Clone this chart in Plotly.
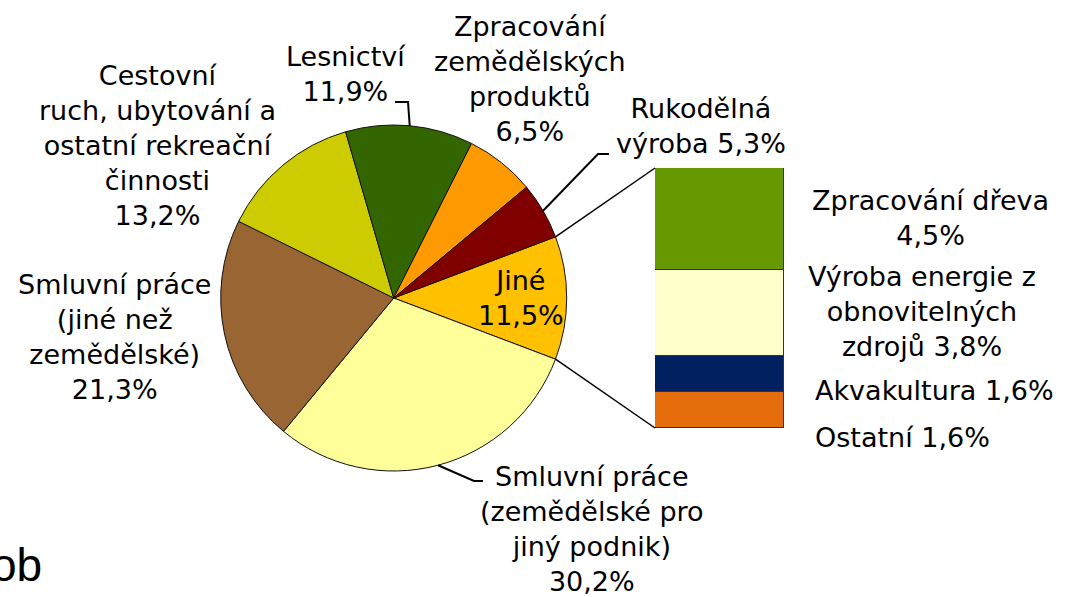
import math
import plotly.graph_objects as go

# ---------------- data ----------------
pie_labels = [
    "Jiné",
    "Smluvní práce (zemědělské pro jiný podnik)",
    "Smluvní práce (jiné než zemědělské)",
    "Cestovní ruch, ubytování a ostatní rekreační činnosti",
    "Lesnictví",
    "Zpracování zemědělských produktů",
    "Rukodělná výroba",
]
pie_values = [11.5, 30.2, 21.3, 13.2, 11.9, 6.5, 5.3]
pie_colors = ["#FFC000", "#FFFF99", "#996633", "#CCCC00", "#336600", "#FF9900", "#800000"]
pie_display = [
    "Jiné<br>{v}",
    "Smluvní práce<br>(zemědělské pro<br>jiný podnik)<br>{v}",
    "Smluvní práce<br>(jiné než<br>zemědělské)<br>{v}",
    "Cestovní<br>ruch, ubytování a<br>ostatní rekreační<br>činnosti<br>{v}",
    "Lesnictví<br>{v}",
    "Zpracování<br>zemědělských<br>produktů<br>{v}",
    "Rukodělná<br>výroba {v}",
]

bar_labels = ["Ostatní", "Akvakultura", "Výroba energie z obnovitelných zdrojů", "Zpracování dřeva"]
bar_values = [1.6, 1.6, 3.8, 4.5]
bar_colors = ["#E46C0A", "#002060", "#FFFFCC", "#669900"]
bar_display = [
    "Ostatní {v}",
    "Akvakultura {v}",
    "Výroba energie z<br>obnovitelných<br>zdrojů {v}",
    "Zpracování dřeva<br>{v}",
]

# ---------------- layout constants (pixels) ----------------
W, H = 1074, 597
PIE_CX, PIE_CY, PIE_R = 393.7, 298.0, 173.0
BAR_X0, BAR_X1, BAR_TOP, BAR_BOT = 655, 784, 168, 428
FONT = "DejaVu Sans"
FS = 27


def px(x):
    return x / W


def py(y):
    return 1 - y / H


def fmt(v):
    return f"{v:.1f}".replace(".", ",") + "%"


total = sum(pie_values)
jine_half = pie_values[0] / total * 360 / 2
rotation = 90 - jine_half

# mid angles (clockwise from 12 o'clock) of each slice
mid_angles = []
acc = rotation
for v in pie_values:
    span = v / total * 360
    mid_angles.append(acc + span / 2)
    acc += span


def edge_point(angle_deg):
    a = math.radians(angle_deg)
    return PIE_CX + PIE_R * math.sin(a), PIE_CY - PIE_R * math.cos(a)


fig = go.Figure()

fig.add_trace(go.Pie(
    labels=pie_labels,
    values=pie_values,
    sort=False,
    direction="clockwise",
    rotation=rotation,
    marker=dict(colors=pie_colors, line=dict(color="#111111", width=1)),
    textinfo="none",
    hoverinfo="label+percent",
    showlegend=False,
    domain=dict(x=[px(PIE_CX - PIE_R), px(PIE_CX + PIE_R)],
                y=[py(PIE_CY + PIE_R), py(PIE_CY - PIE_R)]),
))

for lab, val, col in zip(bar_labels, bar_values, bar_colors):
    fig.add_trace(go.Bar(
        x=[0], y=[val], name=lab, width=1,
        marker=dict(color=col, line=dict(color="#333333", width=1)),
        showlegend=False, hoverinfo="name+y",
        xaxis="x", yaxis="y",
    ))

# ---------------- label positions ----------------
pie_label_pos = [
    (521, 298, "center"),
    (592, 529, "center"),
    (114, 337, "center"),
    (157, 145, "center"),
    (346, 74, "center"),
    (530, 79, "center"),
    (701, 126, "center"),
]
bar_label_pos = [
    (813, 437, "left"),
    (813, 390, "left"),
    (922, 311, "center"),
    (930, 218, "center"),
]

annotations = []
for tmpl, val, (x, y, anc) in zip(pie_display, pie_values, pie_label_pos):
    annotations.append(dict(
        x=px(x), y=py(y), xref="paper", yref="paper",
        text=tmpl.format(v=fmt(val)), showarrow=False,
        xanchor=anc, yanchor="middle", align="center",
        font=dict(family=FONT, size=FS, color="#000000"),
    ))
for tmpl, val, (x, y, anc) in zip(bar_display, bar_values, bar_label_pos):
    annotations.append(dict(
        x=px(x), y=py(y), xref="paper", yref="paper",
        text=tmpl.format(v=fmt(val)), showarrow=False,
        xanchor=anc, yanchor="middle", align="center",
        font=dict(family=FONT, size=FS, color="#000000"),
    ))
annotations.append(dict(
    x=px(44), y=py(565), xref="paper", yref="paper", text="ob",
    showarrow=False, xanchor="right", yanchor="middle",
    font=dict(family="Liberation Sans", size=46, color="#000000"),
))

# ---------------- leader / connector lines ----------------
shapes = []


def path(points):
    return "M " + " L ".join(f"{px(x)},{py(y)}" for x, y in points)


leaders = {
    4: [(395, 102), (408, 102)],   # Lesnictví
    6: [(609, 154), (598, 154)],   # Rukodělná
    1: [(483, 481), (474, 481)],   # Smluvní (zemědělské)
}
for idx, pts in leaders.items():
    ex, ey = edge_point(mid_angles[idx])
    shapes.append(dict(type="path", xref="paper", yref="paper",
                       path=path(pts + [(ex, ey)]),
                       line=dict(color="#000000", width=2)))

# Jiné edges to bar corners
top_edge = edge_point(rotation)
bot_edge = edge_point(rotation + 2 * jine_half)
shapes.append(dict(type="line", xref="paper", yref="paper",
                   x0=px(top_edge[0]), y0=py(top_edge[1]), x1=px(BAR_X0), y1=py(BAR_TOP),
                   line=dict(color="#000000", width=1.5)))
shapes.append(dict(type="line", xref="paper", yref="paper",
                   x0=px(bot_edge[0]), y0=py(bot_edge[1]), x1=px(BAR_X0), y1=py(BAR_BOT),
                   line=dict(color="#000000", width=1.5)))

fig.update_layout(
    width=W, height=H,
    margin=dict(l=0, r=0, t=0, b=0),
    paper_bgcolor="white", plot_bgcolor="rgba(0,0,0,0)",
    barmode="stack", bargap=0,
    xaxis=dict(domain=[px(BAR_X0), px(BAR_X1)], range=[-0.5, 0.5], visible=False, fixedrange=True),
    yaxis=dict(domain=[py(BAR_BOT), py(BAR_TOP)], range=[0, sum(bar_values)], visible=False, fixedrange=True),
    annotations=annotations,
    shapes=shapes,
)

fig.write_html("out.html", config={"displayModeBar": False},
               post_script="document.body.style.margin='0';")
